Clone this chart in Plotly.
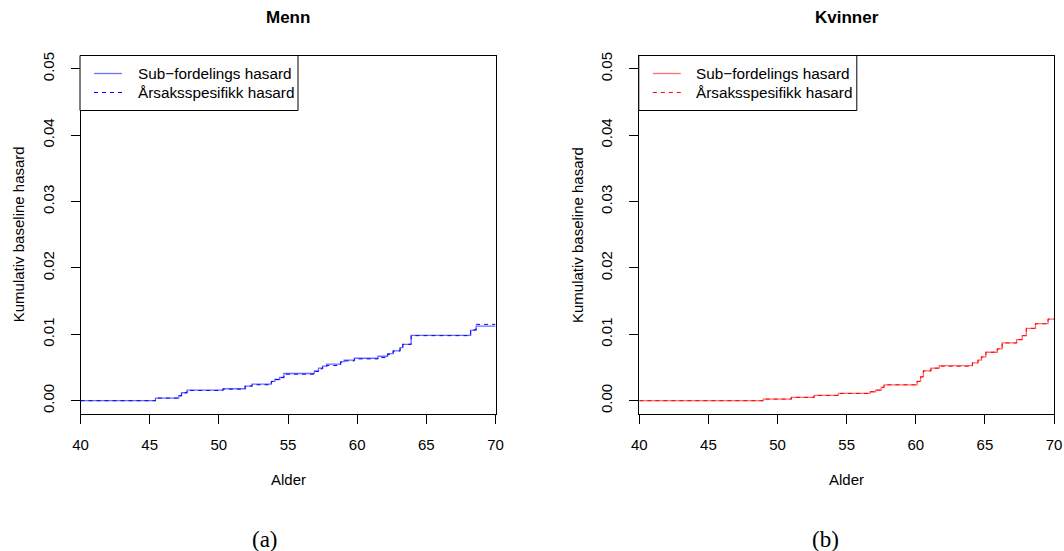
import plotly.graph_objects as go

# ---- data ----
ages_menn = [40, 45.42, 47.1, 47.3, 47.7, 50.3, 51.9, 52.4, 53.8, 54.05, 54.4, 54.7,
             56.9, 57.2, 57.5, 57.8, 58.8, 59.06, 59.8, 61.5, 62.2, 62.6, 63.1, 63.3,
             63.9, 68.2, 68.6, 70]
sub_menn = [0, 0.0004, 0.00075, 0.0012, 0.0016, 0.0018, 0.0022, 0.0025, 0.0029, 0.0032,
            0.0035, 0.0041, 0.0045, 0.0049, 0.0052, 0.0055, 0.0059, 0.0061, 0.0064,
            0.0067, 0.0071, 0.0075, 0.0080, 0.0085, 0.00985, 0.0106, 0.01125, 0.01125]
cause_menn = [0, 0.0004, 0.00075, 0.0012, 0.00155, 0.00175, 0.0022, 0.0024, 0.0029,
              0.0032, 0.0035, 0.0040, 0.0044, 0.0048, 0.0052, 0.0053, 0.0058, 0.0060,
              0.0063, 0.0065, 0.0070, 0.0075, 0.0080, 0.0085, 0.0098, 0.0107, 0.0115,
              0.0115]

ages_kvinner = [40, 48.97, 51.0, 52.65, 54.4, 56.7, 57.1, 57.5, 57.7, 60.1, 60.35, 60.55,
                61.1, 61.7, 64.1, 64.5, 64.75, 65.07, 65.9, 66.25, 67.3, 67.7, 68.0,
                68.66, 69.57, 70]
sub_kvinner = [0, 0.00025, 0.0005, 0.0008, 0.0011, 0.00135, 0.0016, 0.002, 0.0024,
               0.0029, 0.0036, 0.0045, 0.0049, 0.0053, 0.0057, 0.0061, 0.0066, 0.0073,
               0.0078, 0.0087, 0.0092, 0.0098, 0.0109, 0.0116, 0.0123, 0.0123]
cause_kvinner = [0, 0.00025, 0.0005, 0.0008, 0.0011, 0.00135, 0.0016, 0.002, 0.0024,
                 0.0029, 0.0036, 0.0045, 0.0049, 0.0052, 0.0057, 0.0061, 0.0066, 0.0073,
                 0.0078, 0.0087, 0.0092, 0.0098, 0.0109, 0.0116, 0.0123, 0.0123]

x_ticks = [40, 45, 50, 55, 60, 65, 70]
y_ticks = [0.00, 0.01, 0.02, 0.03, 0.04, 0.05]
series_names = ["Sub\u2212fordelings hasard", "\u00c5rsaksspesifikk hasard"]
titles = ["Menn", "Kvinner"]
panel_labels = ["(a)", "(b)"]

W, H = 1064, 551
FONT = "Liberation Sans, Arial, sans-serif"
DASH = "4px,4px"

def px_x(p):
    return p / W

def px_y(p):
    return (H - p) / H

fig = go.Figure()

panels = [
    dict(ages=ages_menn, sub=sub_menn, cause=cause_menn, light="rgb(110,110,255)",
         dark="rgb(0,0,255)", x0=80.5, x1=495.5, xa="x", ya="y", lab=265),
    dict(ages=ages_kvinner, sub=sub_kvinner, cause=cause_kvinner, light="rgb(255,110,110)",
         dark="rgb(255,0,0)", x0=639.3, x1=1054, xa="x2", ya="y2", lab=825),
]

top_px, bot_px = 55.5, 414

for i, p in enumerate(panels):
    fig.add_trace(go.Scatter(x=p["ages"], y=p["sub"], mode="lines", line_shape="hv",
                             line=dict(color=p["light"], width=1.3),
                             name=series_names[0], xaxis=p["xa"], yaxis=p["ya"],
                             showlegend=False))
    fig.add_trace(go.Scatter(x=p["ages"], y=p["cause"], mode="lines", line_shape="hv",
                             line=dict(color=p["dark"], width=1, dash=DASH),
                             name=series_names[1], xaxis=p["xa"], yaxis=p["ya"],
                             showlegend=False))

axis_common = dict(showline=True, linecolor="black", linewidth=1, mirror=True,
                   ticks="outside", ticklen=9, tickcolor="black", tickwidth=1,
                   showgrid=False, zeroline=False,
                   tickfont=dict(family=FONT, size=15, color="black"))

layout = dict(width=W, height=H,
              margin=dict(l=0, r=0, t=0, b=0, pad=0, autoexpand=False),
              plot_bgcolor="white", paper_bgcolor="white", showlegend=False)

for i, p in enumerate(panels):
    sx = "" if i == 0 else "2"
    layout["xaxis" + sx] = dict(axis_common, domain=[px_x(p["x0"]), px_x(p["x1"])],
                                range=[40, 70], tickvals=x_ticks, anchor="y" + sx,
                                ticklabelstandoff=8)
    layout["yaxis" + sx] = dict(axis_common, domain=[px_y(bot_px), px_y(top_px)],
                                range=[-0.002, 0.052], tickvals=y_ticks,
                                tickformat=".2f", tickangle=-90, anchor="x" + sx,
                                ticklabelstandoff=11)

fig.update_layout(**layout)

annotations = []
shapes = []
for i, p in enumerate(panels):
    cx = (p["x0"] + p["x1"]) / 2
    annotations.append(dict(text="<b>" + titles[i] + "</b>", x=px_x(cx), y=px_y(18),
                            xref="paper", yref="paper", showarrow=False,
                            xanchor="center", yanchor="middle",
                            font=dict(family=FONT, size=17, color="black")))
    annotations.append(dict(text="Alder", x=px_x(cx), y=px_y(479), xref="paper",
                            yref="paper", showarrow=False, xanchor="center",
                            yanchor="middle",
                            font=dict(family=FONT, size=15, color="black")))
    annotations.append(dict(text="Kumulativ baseline hasard", x=px_x(p["x0"] - 62),
                            y=px_y((top_px + bot_px) / 2), xref="paper", yref="paper",
                            showarrow=False, textangle=-90, xanchor="center",
                            yanchor="middle",
                            font=dict(family=FONT, size=15, color="black")))
    annotations.append(dict(text=panel_labels[i], x=px_x(p["lab"]),
                            y=px_y(539), xref="paper", yref="paper", showarrow=False,
                            xanchor="center", yanchor="middle",
                            font=dict(family="Liberation Serif, serif", size=23,
                                      color="black")))
    # legend (box, line samples, labels)
    lx = p["x0"] - 0.5
    shapes.append(dict(type="rect", xref="paper", yref="paper",
                       x0=px_x(lx), x1=px_x(lx + 218), y0=px_y(110.5), y1=px_y(top_px),
                       line=dict(color="black", width=1), fillcolor="white",
                       layer="above"))
    rows = [(73.5, p["light"], "solid", 1.3), (92.5, p["dark"], DASH, 1)]
    for j, (ry, col, dash, wd) in enumerate(rows):
        shapes.append(dict(type="line", xref="paper", yref="paper",
                           x0=px_x(lx + 14), x1=px_x(lx + 42), y0=px_y(ry), y1=px_y(ry),
                           line=dict(color=col, width=wd, dash=dash), layer="above"))
        annotations.append(dict(text=series_names[j], x=px_x(lx + 55.5), y=px_y(ry),
                                xref="paper", yref="paper", showarrow=False,
                                xanchor="left", yanchor="middle",
                                font=dict(family=FONT, size=15.3, color="black")))

fig.update_layout(annotations=annotations, shapes=shapes)

post = ("document.body.style.margin='0';document.body.style.padding='0';"
        "document.documentElement.style.overflow='hidden';")
fig.write_html("out.html", post_script=post, config={"displayModeBar": False})
